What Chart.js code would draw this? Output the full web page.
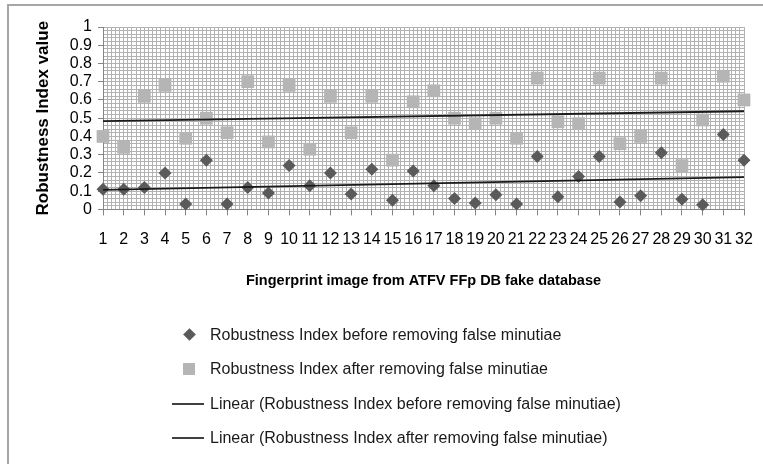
<!DOCTYPE html>
<html>
<head>
<meta charset="utf-8">
<script src="https://cdn.jsdelivr.net/npm/chart.js@4/dist/chart.umd.min.js"></script>
<style>
  html, body { margin: 0; padding: 0; background: #fff; overflow: hidden; }
  #wrap { position: relative; width: 763px; height: 464px; }
  #frame { position: absolute; left: 7px; top: 4px; width: 760px; height: 480px;
           border: 2px solid #a6a6a6; box-sizing: border-box; }
  #chart { position: absolute; left: 0; top: 0; }
  #legend { position: absolute; left: 172px; top: 318px;
            font: 16px "Liberation Sans", Arial, sans-serif; color: #1a1a1a; }
  .item { height: 34.3px; display: flex; align-items: center; white-space: nowrap; }
  .mark { width: 38px; height: 20px; position: relative; }
  .mark span { position: absolute; }
</style>
</head>
<body>
<div id="wrap">
  <div id="frame"></div>
  <canvas id="chart" width="763" height="464"></canvas>
  <div id="legend"></div>
</div>
<script>
// fingerprint image numbers 1..32
const categories = ["1","2","3","4","5","6","7","8","9","10","11","12","13","14","15","16",
  "17","18","19","20","21","22","23","24","25","26","27","28","29","30","31","32"];

// values
const beforeValues = [0.11, 0.11, 0.12, 0.20, 0.03, 0.27, 0.03, 0.12,
  0.09, 0.24, 0.13, 0.20, 0.085, 0.22, 0.05, 0.21,
  0.13, 0.06, 0.035, 0.08, 0.03, 0.29, 0.07, 0.18,
  0.29, 0.04, 0.075, 0.31, 0.055, 0.025, 0.41, 0.27];
const afterValues = [0.40, 0.34, 0.62, 0.68, 0.39, 0.50, 0.42, 0.70,
  0.37, 0.68, 0.33, 0.62, 0.42, 0.62, 0.27, 0.59,
  0.65, 0.50, 0.47, 0.50, 0.39, 0.72, 0.48, 0.47,
  0.72, 0.36, 0.40, 0.72, 0.24, 0.49, 0.73, 0.60];

// trend line ends (first and last image)
const trendBefore = [0.107, 0.177];
const trendAfter = [0.484, 0.538];

const yTicks = [0, 0.1, 0.2, 0.3, 0.4, 0.5, 0.6, 0.7, 0.8, 0.9, 1];
const yTickLabels = ["0", "0.1", "0.2", "0.3", "0.4", "0.5", "0.6", "0.7", "0.8", "0.9", "1"];

const seriesNames = [
  "Robustness Index before removing false minutiae",
  "Robustness Index after removing false minutiae",
  "Linear (Robustness Index before removing false minutiae)",
  "Linear (Robustness Index after removing false minutiae)"
];

const FONT = "'Liberation Sans', Arial, sans-serif";
const darkGray = "#5a5a5a";
const lightGray = "#b5b5b5";
const trendColor = "#1a1a1a";
const majorGrid = "#858585";
const minorGrid = "#b2b2b2";

// only the two ends carry a value, the line spans the gap
function trendData(ends) {
  return categories.map((c, i) => i === 0 ? ends[0] : (i === categories.length - 1 ? ends[1] : null));
}

const ctx = document.getElementById("chart").getContext("2d");

new Chart(ctx, {
  type: "line",
  data: {
    labels: categories,
    datasets: [
      {
        label: seriesNames[0],
        data: beforeValues,
        showLine: false,
        pointStyle: "rectRot",
        pointRadius: 6.5,
        backgroundColor: darkGray,
        borderColor: darkGray,
        borderWidth: 0,
        clip: false,
        order: 1
      },
      {
        label: seriesNames[1],
        data: afterValues,
        showLine: false,
        pointStyle: "rect",
        pointRadius: 9,
        backgroundColor: lightGray,
        borderColor: lightGray,
        borderWidth: 0,
        clip: false,
        order: 2
      },
      {
        label: seriesNames[2],
        data: trendData(trendBefore),
        spanGaps: true,
        pointRadius: 0,
        borderColor: trendColor,
        borderWidth: 1.8,
        order: 0
      },
      {
        label: seriesNames[3],
        data: trendData(trendAfter),
        spanGaps: true,
        pointRadius: 0,
        borderColor: trendColor,
        borderWidth: 1.8,
        order: 0
      }
    ]
  },
  options: {
    responsive: false,
    animation: false,
    layout: { padding: { left: 28, top: 27, right: 19, bottom: 174 } },
    plugins: {
      legend: { display: false },
      tooltip: { enabled: false }
    },
    scales: {
      x: {
        type: "category",
        offset: false,
        grid: { color: majorGrid, tickLength: 6 },
        border: { color: majorGrid },
        // keep the label gap from widening the side padding
        afterFit: (s) => { s.paddingLeft = 10; s.paddingRight = 10; },
        ticks: {
          autoSkip: false, maxRotation: 0, padding: 15,
          color: "#000", font: { family: FONT, size: 16 }
        },
        title: {
          display: true,
          text: "Fingerprint image from ATFV FFp DB fake database",
          color: "#000",
          font: { family: FONT, size: 14.5, weight: "bold" },
          padding: { top: 8, bottom: 0 }
        }
      },
      xMinor: {
        type: "linear",
        position: "bottom",
        min: 0, max: categories.length - 1,
        z: -1,
        grid: { color: minorGrid, drawTicks: false },
        border: { display: false },
        ticks: { display: false, stepSize: 0.2 },
        afterFit: (s) => { s.height = 0; }
      },
      y: {
        min: 0, max: 1,
        grid: { color: majorGrid, tickLength: 5 },
        border: { color: majorGrid },
        afterBuildTicks: (s) => { s.ticks = yTicks.map(v => ({ value: v })); },
        afterFit: (s) => { s.width = 75; },
        ticks: {
          autoSkip: false,
          padding: 6,
          color: "#000",
          font: { family: FONT, size: 16 },
          callback: (v, i) => yTickLabels[i]
        },
        title: {
          display: true,
          text: "Robustness Index value",
          color: "#000",
          font: { family: FONT, size: 17, weight: "bold" },
          padding: { top: 5, bottom: 0 }
        }
      },
      yMinor: {
        type: "linear",
        position: "left",
        min: 0, max: 1,
        z: -1,
        grid: { color: minorGrid, drawTicks: false },
        border: { display: false },
        ticks: { display: false, stepSize: 0.02 },
        afterFit: (s) => { s.width = 0; }
      }
    }
  }
});

// legend built from the same series names
const legend = document.getElementById("legend");
const markStyles = [
  "left:13px;top:5px;width:9px;height:9px;background:" + darkGray + ";transform:rotate(45deg);",
  "left:11px;top:4px;width:12px;height:12px;background:" + lightGray + ";",
  "left:0;top:9px;width:32px;height:2px;background:#404040;",
  "left:0;top:9px;width:32px;height:2px;background:#404040;"
];
seriesNames.forEach((name, i) => {
  const item = document.createElement("div");
  item.className = "item";
  const mark = document.createElement("div");
  mark.className = "mark";
  const sw = document.createElement("span");
  sw.style.cssText = markStyles[i];
  mark.appendChild(sw);
  const txt = document.createElement("span");
  txt.textContent = name;
  item.appendChild(mark);
  item.appendChild(txt);
  legend.appendChild(item);
});
</script>
</body>
</html>
